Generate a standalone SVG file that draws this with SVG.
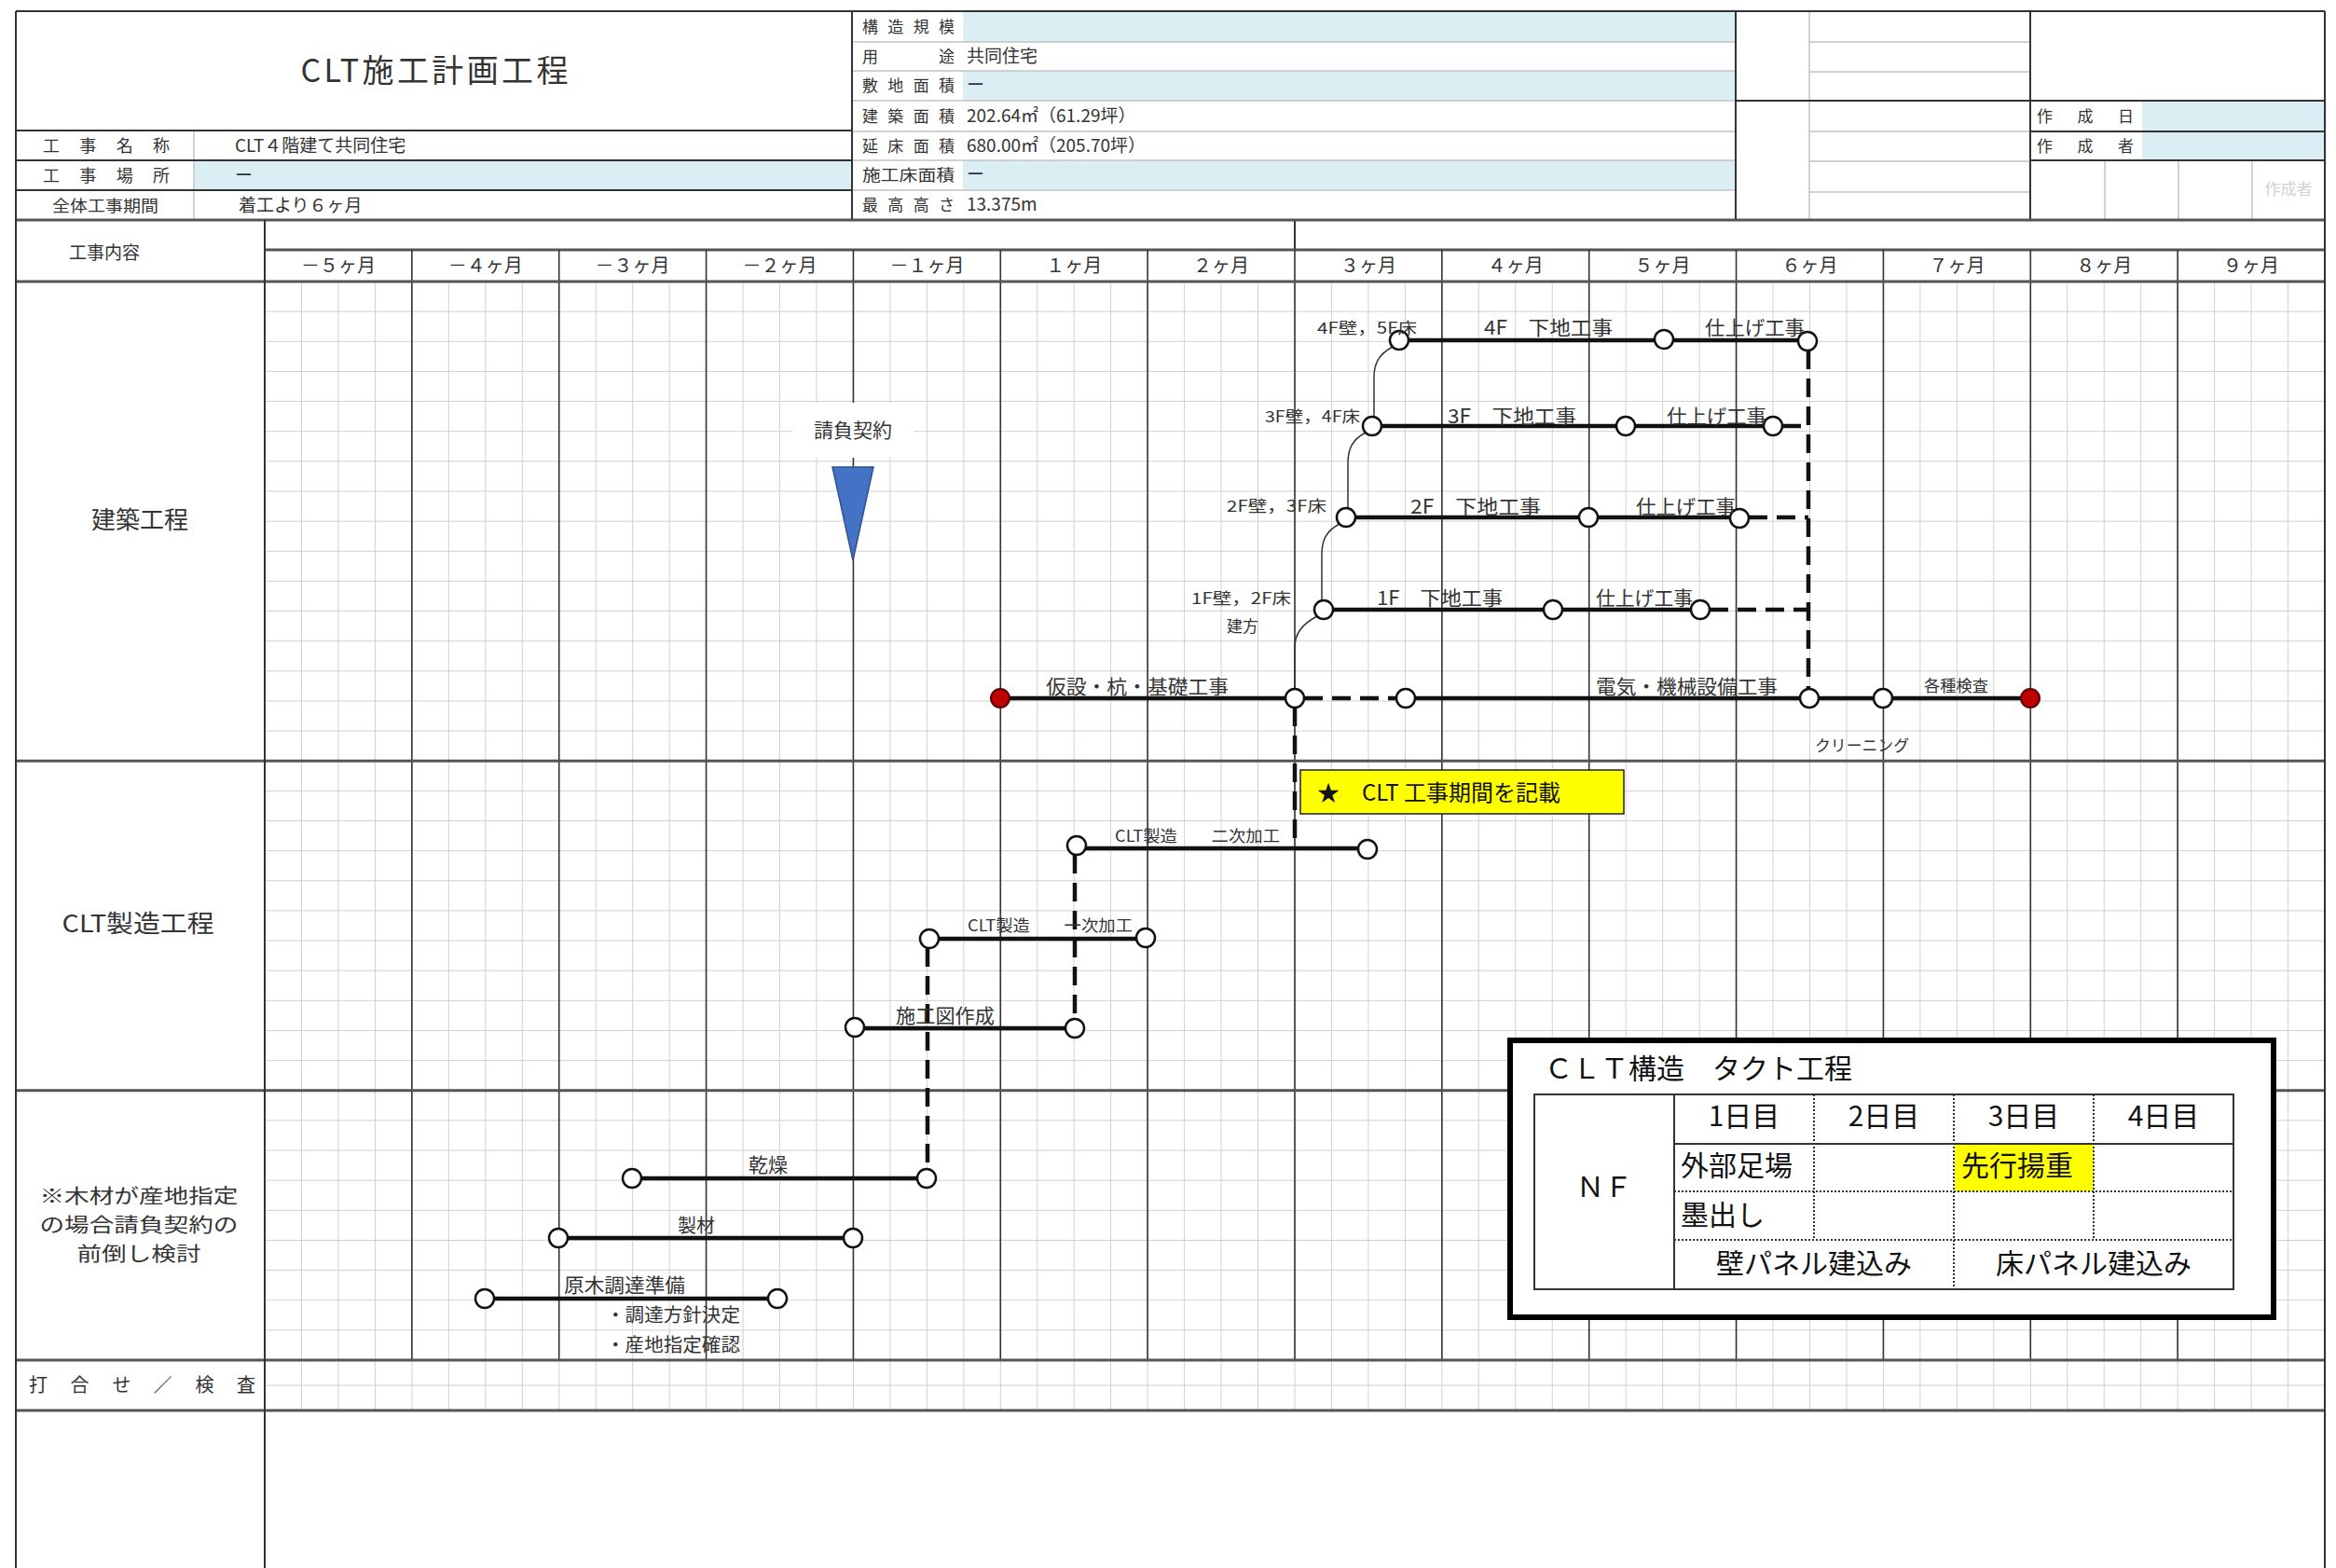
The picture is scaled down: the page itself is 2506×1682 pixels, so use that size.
<svg xmlns="http://www.w3.org/2000/svg" width="2506" height="1682" viewBox="0 0 2506 1682">
<style>
text{font-family:"Noto Sans CJK JP","Noto Sans",sans-serif;fill:#333}
.lg text{fill:#111}
.minor{stroke:#d0d0d0;stroke-width:1;fill:none}
.major{stroke:#333;stroke-width:1.6;fill:none}
.sec{stroke:#555;stroke-width:3;fill:none}
.hd{stroke:#333;stroke-width:2;fill:none}
.lt{stroke:#c4c4c4;stroke-width:1.5;fill:none}
.bar{stroke:#111;stroke-width:4.5;fill:none}
.dash{stroke:#111;stroke-width:4.5;fill:none;stroke-dasharray:20 10}
.thin{stroke:#333;stroke-width:1.5;fill:none}
.oc{fill:#fff;stroke:#111;stroke-width:2.5}
.rc{fill:#C00000;stroke:#5a0000;stroke-width:2}
.blue{fill:#DAEEF3}
.dot{stroke:#333;stroke-width:2;stroke-dasharray:2 2;fill:none}
</style>
<rect x="0" y="0" width="2506" height="1682" fill="#fff"/>

<g id="header">
<rect class="blue" x="208" y="172" width="706" height="32"/>
<rect class="blue" x="1033" y="12" width="829" height="33"/>
<rect class="blue" x="1033" y="76" width="829" height="32"/>
<rect class="blue" x="1033" y="172" width="829" height="32"/>
<rect class="blue" x="2298" y="108" width="196" height="64"/>
<path class="lt" d="M208 140V236M1033 45H1862M1033 76H1862M1033 108H1862M1033 141H1862M1033 172H1862M1033 204H1862M914 45H1033M914 76H1033M914 108H1033M914 141H1033M914 172H1033M914 204H1033M1941 12V236M1941 45H2178M1941 77H2178M1941 141H2178M1941 173H2178M1941 206H2178M2258 172V236M2337 172V236M2416 172V236"/>
<path class="hd" d="M17 12H2494M17 140H914M17 172H914M17 204H914M914 12V236M1862 12V236M2178 12V236M1862 108H2494M2178 141H2494M2178 172H2494M1389 236V268"/>
<path class="sec" d="M17 236H2494M284 268H2494"/>
<text x="466" y="88" font-size="34" text-anchor="middle" textLength="287" lengthAdjust="spacing" fill="#222">CLT施工計画工程</text>
<text x="46" y="163" font-size="18" textLength="136" lengthAdjust="spacing">工事名称</text>
<text x="46" y="195" font-size="18" textLength="136" lengthAdjust="spacing">工事場所</text>
<text x="56" y="227" font-size="17" textLength="114" lengthAdjust="spacingAndGlyphs">全体工事期間</text>
<text x="252" y="163" font-size="19">CLT４階建て共同住宅</text>
<text x="252" y="195" font-size="19">ー</text>
<text x="256" y="227" font-size="19">着工より６ヶ月</text>
<g font-size="17">
<text x="925" y="35" textLength="99" lengthAdjust="spacing">構造規模</text>
<text x="925" y="67" textLength="99" lengthAdjust="spacing">用途</text>
<text x="925" y="98" textLength="99" lengthAdjust="spacing">敷地面積</text>
<text x="925" y="131" textLength="99" lengthAdjust="spacing">建築面積</text>
<text x="925" y="163" textLength="99" lengthAdjust="spacing">延床面積</text>
<text x="925" y="194" textLength="99" lengthAdjust="spacingAndGlyphs">施工床面積</text>
<text x="925" y="226" textLength="99" lengthAdjust="spacing">最高高さ</text>
</g>
<g font-size="19">
<text x="1037" y="67">共同住宅</text>
<text x="1037" y="98">ー</text>
<text x="1037" y="131">202.64㎡（61.29坪）</text>
<text x="1037" y="163">680.00㎡（205.70坪）</text>
<text x="1037" y="194">ー</text>
<text x="1037" y="226">13.375m</text>
</g>
<text x="2185" y="131" font-size="17" textLength="104" lengthAdjust="spacing">作成日</text>
<text x="2185" y="163" font-size="17" textLength="104" lengthAdjust="spacing">作成者</text>
<text x="2455" y="209" font-size="17" text-anchor="middle" style="fill:#d2d2d2">作成者</text>
<text x="112" y="278" font-size="19" text-anchor="middle">工事内容</text>
<g font-size="20" text-anchor="middle">
<text x="362.9" y="292">－５ヶ月</text>
<text x="520.8" y="292">－４ヶ月</text>
<text x="678.6" y="292">－３ヶ月</text>
<text x="836.5" y="292">－２ヶ月</text>
<text x="994.4" y="292">－１ヶ月</text>
<text x="1152.2" y="292">１ヶ月</text>
<text x="1310.1" y="292">２ヶ月</text>
<text x="1467.9" y="292">３ヶ月</text>
<text x="1625.8" y="292">４ヶ月</text>
<text x="1783.6" y="292">５ヶ月</text>
<text x="1941.5" y="292">６ヶ月</text>
<text x="2099.4" y="292">７ヶ月</text>
<text x="2257.2" y="292">８ヶ月</text>
<text x="2415.1" y="292">９ヶ月</text>
</g>
</g>

<g id="grid">
<path class="minor" d="M323.46 302V1513M362.93 302V1513M402.39 302V1513M441.86 302V1513M481.32 302V1513M520.79 302V1513M560.25 302V1513M599.71 302V1513M639.18 302V1513M678.64 302V1513M718.11 302V1513M757.57 302V1513M797.04 302V1513M836.5 302V1513M875.96 302V1513M915.43 302V1513M954.89 302V1513M994.36 302V1513M1033.82 302V1513M1073.29 302V1513M1112.75 302V1513M1152.21 302V1513M1191.68 302V1513M1231.14 302V1513M1270.61 302V1513M1310.07 302V1513M1349.54 302V1513M1389 302V1513M1428.46 302V1513M1467.93 302V1513M1507.39 302V1513M1546.86 302V1513M1586.32 302V1513M1625.79 302V1513M1665.25 302V1513M1704.71 302V1513M1744.18 302V1513M1783.64 302V1513M1823.11 302V1513M1862.57 302V1513M1902.04 302V1513M1941.5 302V1513M1980.96 302V1513M2020.43 302V1513M2059.89 302V1513M2099.36 302V1513M2138.82 302V1513M2178.29 302V1513M2217.75 302V1513M2257.21 302V1513M2296.68 302V1513M2336.14 302V1513M2375.61 302V1513M2415.07 302V1513M2454.54 302V1513"/>
<path class="minor" d="M284 334.14H2494M284 366.28H2494M284 398.42H2494M284 430.56H2494M284 462.69H2494M284 494.83H2494M284 526.97H2494M284 559.11H2494M284 591.25H2494M284 623.39H2494M284 655.53H2494M284 687.67H2494M284 719.81H2494M284 751.94H2494M284 784.08H2494M284 848.36H2494M284 880.5H2494M284 912.64H2494M284 944.78H2494M284 976.92H2494M284 1009.06H2494M284 1041.19H2494M284 1073.33H2494M284 1105.47H2494M284 1137.61H2494M284 1201.89H2494M284 1234.03H2494M284 1266.17H2494M284 1298.31H2494M284 1330.44H2494M284 1362.58H2494M284 1394.72H2494M284 1426.86H2494M284 1486H2494"/>
<path class="major" d="M441.86 268V1459M599.71 268V1459M757.57 268V1459M915.43 268V1459M1073.29 268V1459M1231.14 268V1459M1389 268V1459M1546.86 268V1459M1704.71 268V1459M1862.57 268V1459M2020.43 268V1459M2178.29 268V1459M2336.14 268V1459"/>
<path class="sec" d="M17 302H2494M17 816.2H2494M17 1169.8H2494M17 1459H2494M17 1513H2494"/>
<path class="hd" d="M17 12V1682M2494 12V1682M284 236V1682"/>
<text x="150" y="567" font-size="26" text-anchor="middle">建築工程</text>
<text x="148" y="1000" font-size="26" text-anchor="middle" textLength="163" lengthAdjust="spacingAndGlyphs">CLT製造工程</text>
<g font-size="21" text-anchor="middle">
<text x="149" y="1290" textLength="213" lengthAdjust="spacingAndGlyphs">※木材が産地指定</text>
<text x="149" y="1321" textLength="213" lengthAdjust="spacingAndGlyphs">の場合請負契約の</text>
<text x="149" y="1352" textLength="133" lengthAdjust="spacingAndGlyphs">前倒し検討</text>
</g>
<text x="31" y="1493" font-size="20" textLength="243" lengthAdjust="spacing">打合せ／検査</text>
</g>

<g id="connectors">
<path class="bar" d="M1073 749H1389M1508 749H2178M1501 365H1940M1472 457H1902M1444 555H1866M1420 654H1824M1155 910H1467M997 1007H1229M917 1103H1153M678 1264H994M599 1328H915M520 1393H834"/>
<path class="dash" d="M1399 749H1498M1389 759V911M1940 376V739M1912 457H1940M1876 555H1940M1834 654H1940M1153 917V1093M995 1017V1254"/>
<path class="thin" d="M1494 372C1479 380 1474 390 1474 405L1474 447M1465 464C1450 472 1446 482 1446 497L1446 545M1437 562C1422 570 1418 580 1418 595L1418 644M1413 661C1396 670 1389 680 1389 695L1389 739"/>
</g>

<g id="contract">
<rect x="850" y="432" width="130" height="59" fill="#fff"/>
<text x="915" y="469" font-size="21" text-anchor="middle">請負契約</text>
<polygon points="893,501 937,501 915,601" fill="#4472C4" stroke="#2F528F" stroke-width="1.5"/>
</g>

<g id="n-start"><circle class="rc" cx="1073" cy="749" r="10"/></g>
<g id="n-found"><circle class="oc" cx="1389" cy="749" r="10"/></g>
<g id="n-elec"><circle class="oc" cx="1508" cy="749" r="10"/></g>
<g id="n-elec-end"><circle class="oc" cx="1941" cy="749" r="10"/></g>
<g id="n-clean"><circle class="oc" cx="2020" cy="749" r="10"/></g>
<g id="n-end"><circle class="rc" cx="2178" cy="749" r="10"/></g>
<g id="n-4f-a"><circle class="oc" cx="1501" cy="365" r="10"/></g>
<g id="n-4f-b"><circle class="oc" cx="1785" cy="364" r="10"/></g>
<g id="n-4f-c"><circle class="oc" cx="1939" cy="366" r="10"/></g>
<g id="n-3f-a"><circle class="oc" cx="1472" cy="457" r="10"/></g>
<g id="n-3f-b"><circle class="oc" cx="1744" cy="457" r="10"/></g>
<g id="n-3f-c"><circle class="oc" cx="1902" cy="457" r="10"/></g>
<g id="n-2f-a"><circle class="oc" cx="1444" cy="555" r="10"/></g>
<g id="n-2f-b"><circle class="oc" cx="1704" cy="555" r="10"/></g>
<g id="n-2f-c"><circle class="oc" cx="1866" cy="556" r="10"/></g>
<g id="n-1f-a"><circle class="oc" cx="1420" cy="654" r="10"/></g>
<g id="n-1f-b"><circle class="oc" cx="1666" cy="654" r="10"/></g>
<g id="n-1f-c"><circle class="oc" cx="1824" cy="654" r="10"/></g>
<g id="n-clt2-a"><circle class="oc" cx="1155" cy="907" r="10"/></g>
<g id="n-clt2-b"><circle class="oc" cx="1467" cy="911" r="10"/></g>
<g id="n-clt1-a"><circle class="oc" cx="997" cy="1007" r="10"/></g>
<g id="n-clt1-b"><circle class="oc" cx="1229" cy="1006" r="10"/></g>
<g id="n-draw-a"><circle class="oc" cx="917" cy="1102" r="10"/></g>
<g id="n-draw-b"><circle class="oc" cx="1153" cy="1103" r="10"/></g>
<g id="n-dry-a"><circle class="oc" cx="678" cy="1264" r="10"/></g>
<g id="n-dry-b"><circle class="oc" cx="994" cy="1264" r="10"/></g>
<g id="n-saw-a"><circle class="oc" cx="599" cy="1328" r="10"/></g>
<g id="n-saw-b"><circle class="oc" cx="915" cy="1328" r="10"/></g>
<g id="n-log-a"><circle class="oc" cx="520" cy="1393" r="10"/></g>
<g id="n-log-b"><circle class="oc" cx="834" cy="1393" r="10"/></g>

<g id="labels">
<g font-size="17">
<text x="1413" y="358" textLength="107" lengthAdjust="spacingAndGlyphs">4F壁，5F床</text>
<text x="1357" y="453" textLength="102" lengthAdjust="spacingAndGlyphs">3F壁，4F床</text>
<text x="1316" y="549" textLength="107" lengthAdjust="spacingAndGlyphs">2F壁，3F床</text>
<text x="1278" y="648" textLength="107" lengthAdjust="spacingAndGlyphs">1F壁，2F床</text>
<text x="1316" y="678">建方</text>
<text x="2064" y="742" textLength="69" lengthAdjust="spacingAndGlyphs">各種検査</text>
<text x="1947" y="806" textLength="101" lengthAdjust="spacingAndGlyphs">クリーニング</text>
<text x="1196" y="903" textLength="177" lengthAdjust="spacingAndGlyphs">CLT製造　　二次加工</text>
<text x="1038" y="999" textLength="177" lengthAdjust="spacingAndGlyphs">CLT製造　　一次加工</text>
</g>
<g font-size="21">
<text x="1592" y="359" textLength="138" lengthAdjust="spacingAndGlyphs">4F　下地工事</text>
<text x="1829" y="359" textLength="107" lengthAdjust="spacingAndGlyphs">仕上げ工事</text>
<text x="1553" y="454" textLength="138" lengthAdjust="spacingAndGlyphs">3F　下地工事</text>
<text x="1788" y="454" textLength="107" lengthAdjust="spacingAndGlyphs">仕上げ工事</text>
<text x="1513" y="551" textLength="140" lengthAdjust="spacingAndGlyphs">2F　下地工事</text>
<text x="1755" y="551" textLength="107" lengthAdjust="spacingAndGlyphs">仕上げ工事</text>
<text x="1477" y="649" textLength="135" lengthAdjust="spacingAndGlyphs">1F　下地工事</text>
<text x="1712" y="649" textLength="104" lengthAdjust="spacingAndGlyphs">仕上げ工事</text>
<text x="1122" y="744" textLength="196" lengthAdjust="spacingAndGlyphs">仮設・杭・基礎工事</text>
<text x="1712" y="744" textLength="195" lengthAdjust="spacingAndGlyphs">電気・機械設備工事</text>
<text x="961" y="1097" textLength="106" lengthAdjust="spacingAndGlyphs">施工図作成</text>
<text x="803" y="1257">乾燥</text>
<text x="727" y="1322" font-size="20">製材</text>
<text x="605" y="1386" textLength="130" lengthAdjust="spacingAndGlyphs">原木調達準備</text>
<text x="650" y="1418" font-size="20" textLength="144" lengthAdjust="spacingAndGlyphs">・調達方針決定</text>
<text x="650" y="1450" font-size="20" textLength="144" lengthAdjust="spacingAndGlyphs">・産地指定確認</text>
</g>
</g>

<g id="note">
<rect x="1395" y="826" width="347" height="47" fill="#FFFF00" stroke="#222" stroke-width="1.5"/>
<text x="1413" y="859" font-size="24" style="fill:#111">★　CLT 工事期間を記載</text>
</g>

<g id="legend" class="lg">
<rect x="1620" y="1116" width="819" height="297" fill="#fff" stroke="#000" stroke-width="6"/>
<text x="1657" y="1157" font-size="30">ＣＬＴ構造　タクト工程</text>
<rect x="2097" y="1228" width="149" height="50" fill="#FFFF00"/>
<rect x="1646" y="1174" width="750" height="209" fill="none" stroke="#333" stroke-width="2"/>
<path stroke="#333" stroke-width="2" fill="none" d="M1796 1174V1383M1796 1227H2396"/>
<path class="dot" d="M1946 1174V1330M2246 1174V1330M2096 1174V1383M1796 1278H2396M1796 1330H2396"/>
<g font-size="30">
<text x="1871" y="1208" text-anchor="middle">1日目</text>
<text x="2021" y="1208" text-anchor="middle">2日目</text>
<text x="2171" y="1208" text-anchor="middle">3日目</text>
<text x="2321" y="1208" text-anchor="middle">4日目</text>
<text x="1803" y="1261">外部足場</text>
<text x="2104" y="1261">先行揚重</text>
<text x="1803" y="1314">墨出し</text>
<text x="1946" y="1366" text-anchor="middle">壁パネル建込み</text>
<text x="2246" y="1366" text-anchor="middle">床パネル建込み</text>
<text x="1721" y="1284" text-anchor="middle">ＮＦ</text>
</g>
</g>
</svg>
